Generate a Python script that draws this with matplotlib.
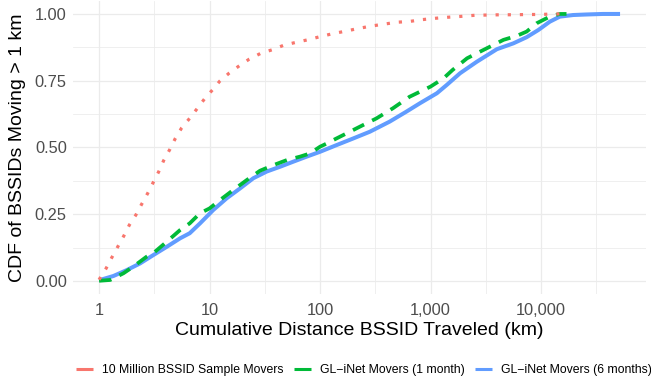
import numpy as np
import matplotlib
matplotlib.use("Agg")
import matplotlib.pyplot as plt
from matplotlib.lines import Line2D
from matplotlib.ticker import FixedLocator, FuncFormatter, NullFormatter

plt.rcParams['font.family'] = ['Liberation Sans', 'DejaVu Sans']

# distance traveled (km) and CDF values
sample_km = [1, 1.16, 1.30, 1.47, 1.67, 1.88, 2.15, 2.43, 2.75, 3.08, 3.47, 3.85, 4.37,
             4.9, 5.6, 6.6, 7.7, 9.0, 10.8, 12.4, 15.1, 18.6, 22.9, 29.2, 37, 47, 61, 79,
             102, 130, 172, 224, 294, 380, 498, 646, 851, 1120, 1470, 1900, 2510, 3310,
             4370, 5750, 7590, 10000, 12900, 17000]
sample_cdf = [0.005, 0.048, 0.087, 0.127, 0.168, 0.21, 0.247, 0.288, 0.328, 0.368, 0.41,
              0.452, 0.493, 0.534, 0.574, 0.609, 0.645, 0.682, 0.719, 0.749, 0.779, 0.806,
              0.831, 0.853, 0.866, 0.883, 0.894, 0.904, 0.916, 0.926, 0.936, 0.946, 0.955,
              0.962, 0.969, 0.972, 0.979, 0.984, 0.988, 0.991, 0.995, 0.996, 0.997, 0.997,
              0.998, 0.998, 1.0, 1.0]

month1_km = [1, 1.26, 1.66, 2.04, 2.69, 3.09, 4.09, 5.41, 6.61, 8.2, 10, 12.4, 16.4, 21.7,
             28.6, 37.8, 50.1, 66.1, 81.3, 100, 115, 132, 174, 245, 324, 457, 646, 1000,
             1310, 1580, 2140, 2630, 3470, 4570, 6030, 7410, 9120, 12000, 14800, 17000]
month1_cdf = [0.001, 0.004, 0.029, 0.054, 0.091, 0.104, 0.147, 0.191, 0.216, 0.254, 0.272,
              0.303, 0.341, 0.378, 0.413, 0.434, 0.453, 0.466, 0.478, 0.503, 0.515, 0.528,
              0.553, 0.584, 0.609, 0.647, 0.69, 0.728, 0.759, 0.79, 0.834, 0.853, 0.878,
              0.903, 0.918, 0.934, 0.965, 0.99, 1.0, 1.0]

month6_km = [1, 1.35, 1.78, 2.35, 3.09, 4.09, 5.41, 6.61, 8.2, 10.8, 14.3, 18.9, 24.9, 32.9,
             43.5, 57.3, 75.9, 100, 141, 200, 282, 427, 603, 804, 1140, 1400, 1850, 2620,
             3980, 5620, 7410, 9460, 12000, 14800, 19500, 25700, 36300, 51900]
month6_cdf = [0.003, 0.019, 0.041, 0.066, 0.097, 0.128, 0.16, 0.179, 0.216, 0.266, 0.31,
              0.347, 0.385, 0.41, 0.428, 0.447, 0.466, 0.484, 0.509, 0.534, 0.559, 0.597,
              0.634, 0.666, 0.703, 0.734, 0.778, 0.821, 0.868, 0.89, 0.913, 0.94, 0.971,
              0.99, 0.996, 0.998, 1.0, 1.0]

labels = ['10 Million BSSID Sample Movers', 'GL\u2212iNet Movers (1 month)',
          'GL\u2212iNet Movers (6 months)']
colors = ['#F8766D', '#00BA38', '#619CFF']

x_ticks = [1, 10, 100, 1000, 10000]
y_ticks = [0, 0.25, 0.5, 0.75, 1.0]

fig = plt.figure(figsize=(6.51, 3.79), dpi=100)
ax = fig.add_axes([73 / 651, 1 - 294.4 / 379, (646 - 73) / 651, (294.4 - 0.6) / 379])

ax.plot(month6_km, month6_cdf, color=colors[2], lw=2.9, solid_capstyle='butt', zorder=3)
ax.plot(month1_km, month1_cdf, color=colors[1], lw=2.7, linestyle=(0, (3.3, 2.4)),
        dash_capstyle='butt', zorder=4)
ax.plot(sample_km, sample_cdf, color=colors[0], lw=2.3, linestyle=(0, (1.0, 2.8)),
        dash_capstyle='butt', zorder=5)

ax.set_xscale('log')
ax.set_xlim(10 ** -0.236, 10 ** 4.95)
ax.set_ylim(-0.05, 1.05)

ax.xaxis.set_major_locator(FixedLocator(x_ticks))
ax.xaxis.set_minor_locator(FixedLocator([10 ** (k + 0.5) for k in range(-1, 5)]))
ax.xaxis.set_major_formatter(FuncFormatter(lambda v, p: f'{v:,.0f}'))
ax.xaxis.set_minor_formatter(NullFormatter())
ax.yaxis.set_major_locator(FixedLocator(y_ticks))
ax.yaxis.set_minor_locator(FixedLocator([0.125, 0.375, 0.625, 0.875]))
ax.yaxis.set_major_formatter(FuncFormatter(lambda v, p: f'{v:.2f}'))

ax.grid(which='major', color='#EBEBEB', lw=0.9)
ax.grid(which='minor', color='#EBEBEB', lw=0.55)
ax.set_axisbelow(True)
for s in ax.spines.values():
    s.set_visible(False)
ax.tick_params(which='both', length=0)
ax.tick_params(axis='x', pad=6, labelsize=11.8, labelcolor='#4D4D4D')
ax.tick_params(axis='y', pad=4.5, labelsize=11.8, labelcolor='#4D4D4D')

ax.set_xlabel('Cumulative Distance BSSID Traveled (km)', fontsize=14, labelpad=3)
ax.set_ylabel('CDF of BSSIDs Moving > 1 km', fontsize=14, labelpad=6)

handles = [Line2D([0], [0], color=c, lw=2.2, solid_capstyle='butt') for c in colors]
fig.legend(handles, labels, loc='center', bbox_to_anchor=(364 / 651, 1 - 370 / 379),
           ncol=3, frameon=False, fontsize=8.8, handlelength=1.4, handletextpad=0.74,
           columnspacing=0.82, borderaxespad=0, borderpad=0)

fig.savefig('out.png', dpi=100)
